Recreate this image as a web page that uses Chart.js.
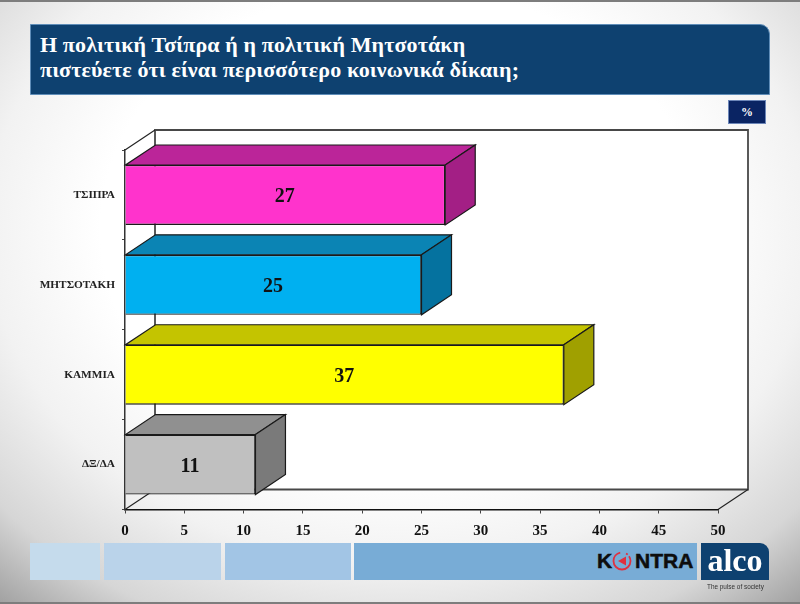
<!DOCTYPE html>
<html lang="el">
<head>
<meta charset="utf-8">
<title>Chart</title>
<script src="https://cdn.jsdelivr.net/npm/chart.js@4"></script>
<style>
html, body { margin: 0; padding: 0; }
body {
    position: relative; width: 800px; height: 604px; overflow: hidden;
    background: radial-gradient(ellipse 78% 84% at 50% 38%, #ffffff 0%, #ffffff 48%, #f2f2f2 66%, #d6d6d6 84%, #989898 100%);
    font-family: "Liberation Serif", serif;
}
.edge { position: absolute; left: 0; width: 800px; background: #7d7d7d; }
#chart { position: absolute; left: 0; top: 0; }
.banner {
    position: absolute; left: 30px; top: 24px; width: 740px; height: 71px; box-sizing: border-box;
    background: #0e4170; border: 1px solid #5f8db8; border-top-right-radius: 10px;
    color: #fff; font-weight: bold; font-size: 22px; letter-spacing: 0.12px; line-height: 24.5px; padding: 8px 0 0 9px;
}
.unit {
    position: absolute; left: 728px; top: 100px; width: 38px; height: 24px; box-sizing: border-box;
    background: #0a2463; border: 1px solid #6c86b8; color: #fff; font: bold 12px/23px "Liberation Serif", serif; text-align: center;
}
.strip { position: absolute; top: 543px; height: 37px; }
.kontra { position: absolute; font: bold 21px/21px "Liberation Sans", sans-serif; color: #0d0d0d; -webkit-text-stroke: 0.5px #0d0d0d; white-space: nowrap; }
.ring { position: absolute; left: 611px; top: 550px; }
.alco {
    position: absolute; left: 701px; top: 543px; width: 68px; height: 37px;
    background: #0e4170; border-top-right-radius: 9px; color: #fff;
    font: bold 32px/35px "Liberation Serif", serif; text-align: center;
}
.pulse { position: absolute; left: 707px; top: 581px; font: 6.4px/11px "Liberation Sans", sans-serif; color: #333; white-space: nowrap; }
</style>
</head>
<body>
<div class="edge" style="top:0;height:2px"></div>
<div class="edge" style="top:602px;height:2px"></div>
<canvas id="chart" width="800" height="604"></canvas>
<div class="banner">Η πολιτική Τσίπρα ή η πολιτική Μητσοτάκη<br>πιστεύετε ότι είναι περισσότερο κοινωνικά δίκαιη;</div>
<div class="unit">%</div>
<div class="strip" style="left:30px;width:70px;background:#c5dbec"></div>
<div class="strip" style="left:104px;width:117px;background:#bad3ea"></div>
<div class="strip" style="left:225px;width:126px;background:#a2c5e5"></div>
<div class="strip" style="left:354px;width:343px;background:#78acd6"></div>
<div class="kontra" style="left:597px;top:550px">K</div>
<svg class="ring" width="22" height="22" viewBox="0 0 22 22"><circle cx="11" cy="11" r="8.5" fill="none" stroke="#e0303f" stroke-width="1.8" stroke-dasharray="38 6 2 2"/><path d="M7 11 L15 6.5 L15 15.5 Z" fill="#e0303f"/></svg>
<div class="kontra" style="left:635px;top:550px">NTRA</div>
<div class="alco">alco</div>
<div class="pulse">The pulse of society</div>

<script>
const categories = ['ΤΣΙΠΡΑ', 'ΜΗΤΣΟΤΑΚΗ', 'ΚΑΜΜΙΑ', 'ΔΞ/ΔΑ'];
const values = [27, 25, 37, 11];
const frontColors = ['#ff33cc', '#00b0f0', '#ffff00', '#c0c0c0'];
const topColors = ['#bb2599', '#0b84b4', '#c4c400', '#909090'];
const sideColors = ['#a31f85', '#05729f', '#a0a000', '#7a7a7a'];

// depth of the fake 3d box
const depthX = 30;
const depthY = -20;

function poly(ctx, pts, fill, stroke, width) {
    ctx.beginPath();
    pts.forEach((p, i) => i ? ctx.lineTo(p[0], p[1]) : ctx.moveTo(p[0], p[1]));
    ctx.closePath();
    if (fill) {
        ctx.fillStyle = fill;
        ctx.fill();
    }
    if (stroke) {
        ctx.strokeStyle = stroke;
        ctx.lineWidth = width;
        ctx.stroke();
    }
}

const wallPlugin = {
    id: 'wall',
    beforeDatasetsDraw(chart) {
        const { ctx, chartArea: a } = chart;
        ctx.save();
        // back wall
        poly(ctx, [[a.left + depthX, a.top + depthY], [a.right + depthX, a.top + depthY],
            [a.right + depthX, a.bottom + depthY], [a.left + depthX, a.bottom + depthY]], '#ffffff', '#484848', 1.8);
        // left side and floor edges
        ctx.strokeStyle = '#222';
        ctx.lineWidth = 1.2;
        [[a.left, a.top], [a.left, a.bottom], [a.right, a.bottom]].forEach(p => {
            ctx.beginPath();
            ctx.moveTo(p[0], p[1]);
            ctx.lineTo(p[0] + depthX, p[1] + depthY);
            ctx.stroke();
        });
        ctx.restore();
    }
};

const boxPlugin = {
    id: 'box',
    afterDatasetsDraw(chart) {
        const { ctx } = chart;
        const bars = chart.getDatasetMeta(0).data;
        ctx.save();
        bars.forEach((bar, i) => {
            const { x, y, base, height } = bar.getProps(['x', 'y', 'base', 'height'], true);
            const t = y - height / 2;
            const b = y + height / 2;
            poly(ctx, [[base, t], [x, t], [x + depthX, t + depthY], [base + depthX, t + depthY]], topColors[i], '#1a1a1a', 1.2);
            poly(ctx, [[x, t], [x + depthX, t + depthY], [x + depthX, b + depthY], [x, b]], sideColors[i], '#1a1a1a', 1.2);
            ctx.fillStyle = '#111';
            ctx.font = 'bold 20px "Liberation Serif"';
            ctx.textAlign = 'center';
            ctx.textBaseline = 'middle';
            ctx.fillText(values[i], (base + x) / 2 - 0.5, y + 2);
        });
        ctx.restore();
    }
};

new Chart(document.getElementById('chart'), {
    type: 'bar',
    data: {
        labels: categories,
        datasets: [{
            data: values,
            backgroundColor: frontColors,
            borderColor: '#1a1a1a',
            borderWidth: 1.3,
            categoryPercentage: 1,
            barPercentage: 2 / 3
        }]
    },
    options: {
        indexAxis: 'y',
        responsive: false,
        animation: false,
        layout: { padding: { top: 150, right: 82, bottom: 0, left: 0 } },
        plugins: { legend: { display: false }, tooltip: { enabled: false } },
        scales: {
            x: {
                min: 0,
                max: 50,
                afterFit(scale) { scale.height = 94.5; },
                border: { color: '#111', width: 1.5 },
                grid: { drawOnChartArea: false, color: '#444', tickLength: 4 },
                ticks: { stepSize: 5, color: '#111', padding: 9, maxRotation: 0, font: { family: 'Liberation Serif', size: 15, weight: 'bold' } }
            },
            y: {
                afterFit(scale) { scale.width = 125; },
                border: { color: '#333', width: 1.5 },
                grid: { drawOnChartArea: false, color: '#444', tickLength: 3 },
                ticks: { color: '#222', padding: 7, font: { family: 'Liberation Serif', size: 11.3, weight: 'bold' } }
            }
        }
    },
    plugins: [wallPlugin, boxPlugin]
});
</script>
</body>
</html>
